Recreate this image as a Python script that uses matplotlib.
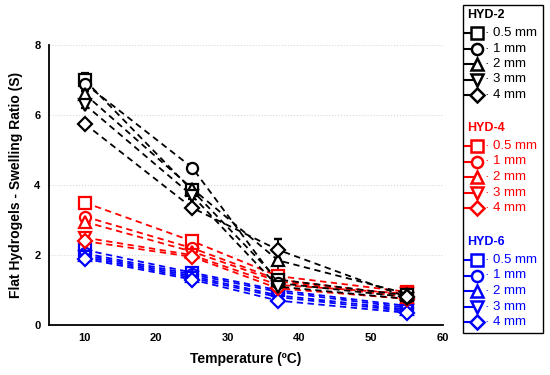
import matplotlib
matplotlib.use("Agg")
import matplotlib.pyplot as plt
from matplotlib.lines import Line2D
from matplotlib.patches import Rectangle

plt.rcParams['font.family'] = ['Liberation Sans', 'DejaVu Sans']

temperature = [10, 25, 37, 55]
thickness_labels = ["0.5 mm", "1 mm", "2 mm", "3 mm", "4 mm"]
markers = ['s', 'o', '^', 'v', 'D']

hyd2 = [
    [7.0, 3.85, 1.3, 0.85],
    [6.9, 4.5, 1.2, 0.8],
    [6.6, 3.9, 1.85, 0.9],
    [6.3, 3.7, 1.1, 0.75],
    [5.75, 3.35, 2.15, 0.8],
]
hyd2_err = [
    [0.2, 0.05, 0.05, 0.05],
    [0.1, 0.1, 0.05, 0.05],
    [0.1, 0.1, 0.6, 0.05],
    [0.1, 0.1, 0.05, 0.05],
    [0.05, 0.05, 0.3, 0.05],
]
hyd4 = [
    [3.5, 2.4, 1.4, 0.95],
    [3.1, 2.2, 1.3, 0.85],
    [2.95, 2.1, 1.25, 0.8],
    [2.5, 2.0, 1.15, 0.9],
    [2.4, 1.95, 1.05, 0.75],
]
hyd6 = [
    [2.15, 1.5, 1.0, 0.55],
    [2.05, 1.45, 0.95, 0.5],
    [2.0, 1.4, 0.85, 0.45],
    [1.95, 1.35, 0.8, 0.4],
    [1.9, 1.3, 0.7, 0.35],
]
groups = ["HYD-2", "HYD-4", "HYD-6"]
group_colors = ["black", "red", "blue"]

fig = plt.figure(figsize=(5.5, 3.75), dpi=100)
ax = fig.add_axes([0.089, 0.133, 0.716, 0.747])

all_data = [hyd2, hyd4, hyd6]
all_err = [hyd2_err, [[0.05]*4]*5, [[0.05]*4]*5]
for gi, (data, errs, col) in enumerate(zip(all_data, all_err, group_colors)):
    for si, (vals, err) in enumerate(zip(data, errs)):
        ax.errorbar(temperature, vals, yerr=err, color=col, ecolor=col,
                    linestyle=(0, (3.5, 2.5)), linewidth=1.3,
                    marker=markers[si], markersize=8 if markers[si] != 'D' else 7.5,
                    markerfacecolor='white', markeredgecolor=col, markeredgewidth=1.6,
                    capsize=3, elinewidth=1.2, capthick=1.2, zorder=3 - gi * 0.1)

ax.set_xlim(5, 60)
ax.set_ylim(0, 8)
ax.set_xticks([10, 20, 30, 40, 50, 60])
ax.set_yticks([0, 2, 4, 6, 8])
ax.tick_params(axis='both', length=0, labelsize=8, pad=6)
for lbl in ax.get_xticklabels() + ax.get_yticklabels():
    lbl.set_fontweight('bold')
ax.yaxis.grid(True, color='#d8d8d8', linestyle=':', linewidth=0.8)
ax.set_axisbelow(True)
for s in ['top', 'right']:
    ax.spines[s].set_visible(False)
for s in ['left', 'bottom']:
    ax.spines[s].set_linewidth(1.3)
ax.set_xlabel("Temperature (ºC)", fontsize=10, fontweight='bold', labelpad=6)
ax.set_ylabel("Flat Hydrogels - Swelling Ratio (S)", fontsize=10, fontweight='bold', labelpad=8)

# Custom legend panel
lax = fig.add_axes([0, 0, 1, 1], facecolor='none')
lax.set_xlim(0, 550)
lax.set_ylim(375, 0)
lax.axis('off')
lax.add_patch(Rectangle((463, 5), 80, 328, fill=False, edgecolor='black', linewidth=1.0))
group_tops = [15, 128, 242]
step = 15.5
for gi, (name, col) in enumerate(zip(groups, group_colors)):
    y0 = group_tops[gi]
    lax.text(467, y0, name, color=col, fontsize=9, fontweight='bold', va='center', ha='left')
    for si, lab in enumerate(thickness_labels):
        y = y0 + 18 + si * step
        lax.add_line(Line2D([465, 473], [y, y], color=col, linewidth=1.5))
        lax.add_line(Line2D([477], [y], marker=markers[si], markersize=8 if markers[si] != 'D' else 7.5,
                            markerfacecolor='white', markeredgecolor=col, markeredgewidth=1.8,
                            linestyle='none'))
        lax.text(485, y, "· " + lab, color=col, fontsize=9.5, va='center', ha='left')

fig.savefig("out.png", dpi=100)
